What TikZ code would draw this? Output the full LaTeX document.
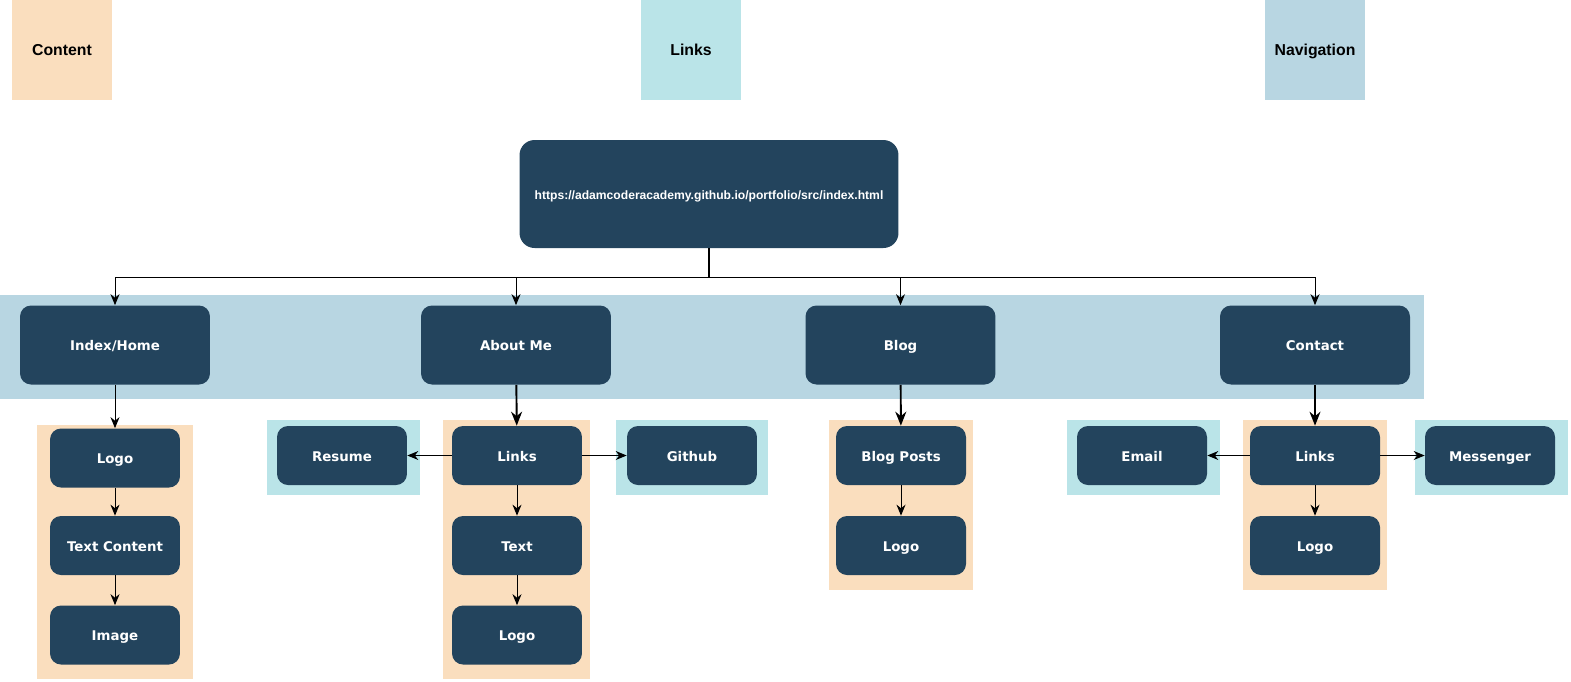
\documentclass[tikz,border=0pt]{standalone}
\usepackage{fontspec}
\setmainfont{DejaVu Sans}
\newfontfamily\legendfont{Liberation Sans}
\usetikzlibrary{arrows.meta}

\definecolor{navy}{RGB}{35,68,93}
\definecolor{peach}{RGB}{250,222,190}
\definecolor{cyanish}{RGB}{186,228,232}
\definecolor{navblue}{RGB}{184,214,226}

\begin{document}
\begin{tikzpicture}[x=0.02cm,y=-0.02cm,
  page/.style={rectangle, rounded corners=0.22cm, fill=navy, text=white, inner sep=0pt,
    text height=1.5ex, text depth=0.3ex,
    font=\fontsize{7.6}{9}\selectfont\bfseries, minimum width=3.8cm, minimum height=1.58cm},
  part/.style={page, minimum width=2.6cm, minimum height=1.18cm},
  legend/.style={rectangle, inner sep=0pt, minimum size=2cm, text height=1.5ex, text depth=0.3ex,
    font=\legendfont\fontsize{9}{10}\selectfont\bfseries},
  arr/.style={-{Stealth[length=2.2mm,width=1.8mm]}, line width=0.55pt},
  thickarr/.style={-{Stealth[length=2.8mm,width=2.2mm]}, line width=1.1pt}]
\useasboundingbox (0,0) rectangle (1571,681);

% legend
\node[legend, fill=peach] (keycontent) at (62,50) {Content};
\node[legend, fill=cyanish] (keylinks) at (691,50) {Links};
\node[legend, fill=navblue] (keynav) at (1315,50) {Navigation};

% bands
\fill[navblue] (0,295) rectangle (1424,399);
\fill[peach] (37,425) rectangle (193,679);
\fill[peach] (443,420) rectangle (590,679);
\fill[peach] (829,420) rectangle (973,590);
\fill[peach] (1243,420) rectangle (1387,590);
\fill[cyanish] (267,420) rectangle (420,495);
\fill[cyanish] (616,420) rectangle (768,495);
\fill[cyanish] (1067,420) rectangle (1220,495);
\fill[cyanish] (1415,420) rectangle (1568,495);

% root
\node[page, rounded corners=0.3cm, minimum width=7.58cm, minimum height=2.16cm,
  font=\legendfont\fontsize{6.9}{8}\selectfont\bfseries] (root) at (709,194)
  {https://adamcoderacademy.github.io/portfolio/src/index.html};

% pages
\node[page] (home) at (115,345) {Index/Home};
\node[page] (about) at (516,345) {About Me};
\node[page] (blog) at (900.5,345) {Blog};
\node[page] (contact) at (1315,345) {Contact};

% home
\node[part] (homelogo) at (115,458) {Logo};
\node[part] (hometext) at (115,545.5) {Text Content};
\node[part] (homeimage) at (115,635) {Image};

% about me
\node[part] (aboutlinks) at (517,455.5) {Links};
\node[part] (abouttext) at (517,545.5) {Text};
\node[part] (aboutlogo) at (517,635) {Logo};
\node[part] (resume) at (342,455.5) {Resume};
\node[part] (github) at (692,455.5) {Github};

% blog
\node[part] (posts) at (901,455.5) {Blog Posts};
\node[part] (bloglogo) at (901,545.5) {Logo};

% contact
\node[part] (contactlinks) at (1315,455.5) {Links};
\node[part] (contactlogo) at (1315,545.5) {Logo};
\node[part] (email) at (1142,455.5) {Email};
\node[part] (messenger) at (1490,455.5) {Messenger};

% connectors
\coordinate (split) at (709,277);
\draw[line width=0.6pt] (root.south) -- (split);
\draw[arr] (split) -| (home);
\draw[arr] (split) -| (about);
\draw[arr] (split) -| (blog);
\draw[arr] (split) -| (contact);

\draw[arr] (home) -- (homelogo);
\draw[arr] (homelogo) -- (hometext);
\draw[arr] (hometext) -- (homeimage);

\draw[thickarr] (about) -- (aboutlinks);
\draw[arr] (aboutlinks) -- (abouttext);
\draw[arr] (abouttext) -- (aboutlogo);
\draw[arr] (aboutlinks) -- (resume);
\draw[arr] (aboutlinks) -- (github);

\draw[thickarr] (blog) -- (posts);
\draw[arr] (posts) -- (bloglogo);

\draw[thickarr] (contact) -- (contactlinks);
\draw[arr] (contactlinks) -- (contactlogo);
\draw[arr] (contactlinks) -- (email);
\draw[arr] (contactlinks) -- (messenger);
\end{tikzpicture}
\end{document}
